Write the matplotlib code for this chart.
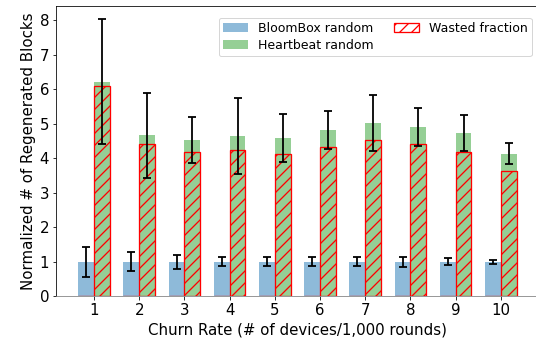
import numpy as np
import matplotlib
matplotlib.use("Agg")
import matplotlib.pyplot as plt

# churn rates (# of devices / 1,000 rounds)
churn = [1, 2, 3, 4, 5, 6, 7, 8, 9, 10]

# BloomBox random
bloom_mean = [1.0, 1.0, 1.0, 1.0, 1.0, 1.0, 1.0, 1.0, 1.0, 1.0]
bloom_err = [0.43, 0.28, 0.20, 0.13, 0.13, 0.13, 0.13, 0.15, 0.10, 0.06]
bloom_waste = [0.01, 0.02, 0.01, 0.02, 0.01, 0.01, 0.01, 0.01, 0.01, 0.01]

# Heartbeat random
heart_mean = [6.22, 4.67, 4.52, 4.65, 4.59, 4.82, 5.02, 4.91, 4.73, 4.13]
heart_err = [1.80, 1.23, 0.66, 1.10, 0.69, 0.54, 0.80, 0.55, 0.53, 0.31]
heart_waste = [6.10, 4.41, 4.18, 4.24, 4.13, 4.33, 4.52, 4.40, 4.19, 3.63]

plt.rcParams["hatch.linewidth"] = 1.3
fs = 15
w = 0.35
x = np.array(churn)

fig = plt.figure(figsize=(536 / 72, 343 / 72), dpi=72)
ax = fig.add_axes([0.105, 0.1362, 0.8998, 0.8464])

ax.bar(x - w / 2, bloom_mean, w, color="#1f77b4", alpha=0.5, label="BloomBox random")
ax.bar(x + w / 2, heart_mean, w, color="#2ca02c", alpha=0.5, label="Heartbeat random")
ax.bar(x - w / 2, bloom_waste, w, fill=False, edgecolor="red", hatch="//", lw=1.3)
ax.bar(x + w / 2, heart_waste, w, fill=False, edgecolor="red", hatch="//", lw=1.3,
       label="Wasted fraction")

ax.errorbar(x - w / 2, bloom_mean, yerr=bloom_err, fmt="none", ecolor="black",
            elinewidth=1.8, capsize=4, capthick=1.8)
ax.errorbar(x + w / 2, heart_mean, yerr=heart_err, fmt="none", ecolor="black",
            elinewidth=1.8, capsize=4, capthick=1.8)

ax.set_xlim(0.165, 10.835)
ax.set_ylim(0, 8.41)
ax.set_xticks(x)
ax.set_yticks(range(0, 9))
ax.tick_params(labelsize=fs)
ax.spines["right"].set_visible(False)
ax.spines["bottom"].set_color("grey")
ax.spines["bottom"].set_zorder(3)
ax.set_xlabel("Churn Rate (# of devices/1,000 rounds)", fontsize=fs)
ax.set_ylabel("Normalized # of Regenerated Blocks", fontsize=fs)

ax.legend(ncol=2, fontsize=12.5, loc="upper right", bbox_to_anchor=(0.9863, 0.96),
          borderaxespad=0, labelspacing=0.3, borderpad=0.35, columnspacing=1.6)

fig.savefig("out.png", dpi=72)
